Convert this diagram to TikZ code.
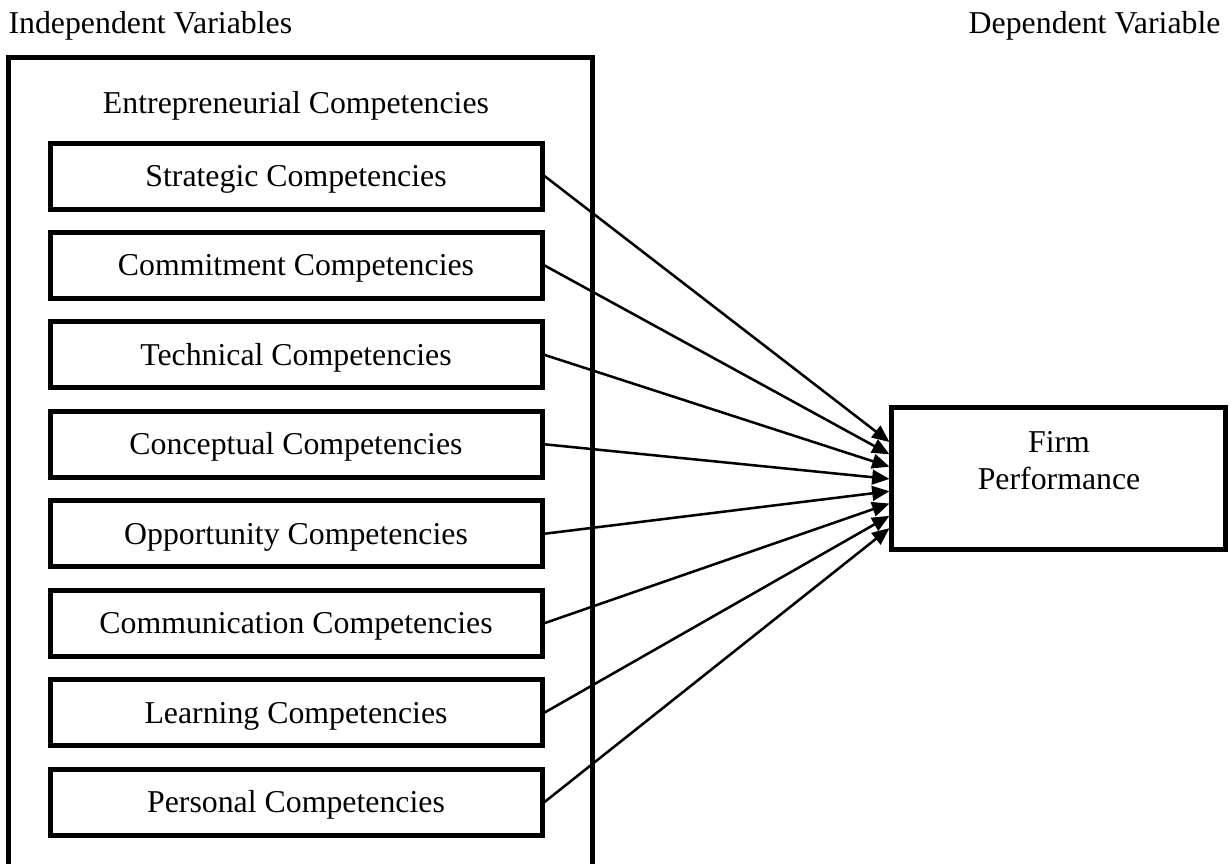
\documentclass[tikz,border=0pt]{standalone}
\usepackage{fontspec}
\setmainfont{Liberation Serif}
\usetikzlibrary{arrows.meta,calc}
\begin{document}
\begin{tikzpicture}[x=0.375pt,y=-0.375pt,
  every node/.style={font=\fontsize{11.93pt}{13.9pt}\selectfont, inner sep=0pt},
  frame/.style={line width=1.875pt},
  compbox/.style={draw, line width=1.875pt, minimum width=184.5pt, minimum height=24.75pt,
    text height=8.5pt, text depth=0.6pt},
  firmbox/.style={draw, line width=1.875pt, minimum width=124.9pt, minimum height=53.6pt},
  link/.style={line width=0.95pt, -{Triangle[length=6.5pt,width=5.5pt]}}]
\useasboundingbox (0,0) rectangle (1232,863);

% column headings
\node[anchor=base west] (iv) at (8,33) {Independent Variables};
\node[anchor=base east] (dv) at (1221,33) {Dependent Variable};

% enclosing frame of the independent variables (runs off the lower edge)
\coordinate (frameBL) at (8,875);
\coordinate (frameTL) at (8,57);
\coordinate (frameTR) at (592,57);
\coordinate (frameBR) at (592,875);
\draw[frame] (frameBL) -- (frameTL) -- (frameTR) -- (frameBR);
\node[anchor=base] (ec) at (296,113) {Entrepreneurial Competencies};

% competency boxes
\foreach \name/\txt [count=\i from 0] in {
  strat/Strategic Competencies,
  commit/Commitment Competencies,
  tech/Technical Competencies,
  concept/Conceptual Competencies,
  opport/Opportunity Competencies,
  commun/Communication Competencies,
  learn/Learning Competencies,
  person/Personal Competencies}
  \node[compbox] (\name) at (296,{176+89.43*\i}) {\txt};

% dependent variable
\node[firmbox] (firm) at (1058.5,478.5) {};
\node[anchor=north, align=center] (firmtxt) at (1059,431) {Firm\\Performance};

% arrows into the firm box, fanned along its left side
\foreach \name [count=\i from 0] in {strat,commit,tech,concept,opport,commun,learn,person} {
  \coordinate (tip\i) at ($(firm.west)+(0,{-36.5+12.3*\i})$);
  \draw[link] (\name.east) -- (tip\i);
}
\end{tikzpicture}
\end{document}
